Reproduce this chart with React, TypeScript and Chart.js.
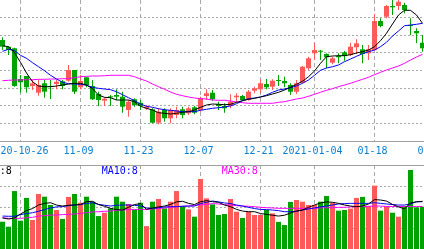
import { useEffect, useRef } from 'react';
import { Chart, registerables } from 'chart.js';

Chart.register(...registerables);

// ---------- data ----------
const dates = [
  '2020-10-21','2020-10-22','2020-10-23','2020-10-26','2020-10-27','2020-10-28','2020-10-29','2020-10-30',
  '2020-11-02','2020-11-03','2020-11-04','2020-11-05','2020-11-06','2020-11-09','2020-11-10','2020-11-11',
  '2020-11-12','2020-11-13','2020-11-16','2020-11-17','2020-11-18','2020-11-19','2020-11-20','2020-11-23',
  '2020-11-24','2020-11-25','2020-11-26','2020-11-27','2020-11-30','2020-12-01','2020-12-02','2020-12-03',
  '2020-12-04','2020-12-07','2020-12-08','2020-12-09','2020-12-10','2020-12-11','2020-12-14','2020-12-15',
  '2020-12-16','2020-12-17','2020-12-18','2020-12-21','2020-12-22','2020-12-23','2020-12-24','2020-12-25',
  '2020-12-28','2020-12-29','2020-12-30','2020-12-31','2021-01-04','2021-01-05','2021-01-06','2021-01-07',
  '2021-01-08','2021-01-11','2021-01-12','2021-01-13','2021-01-14','2021-01-15','2021-01-18','2021-01-19',
  '2021-01-20','2021-01-21','2021-01-22','2021-01-25','2021-01-26','2021-01-27','2021-01-28','2021-01-29',
  '2021-02-01',
];

const tickDates = ['2020-10-26','2020-11-09','2020-11-23','2020-12-07','2020-12-21','2021-01-04','2021-01-18','2021-02-01'];
const tickLabels = ['2020-10-26','11-09','11-23','12-07','12-21','2021-01-04','01-18','02-01'];

const open = [
  16.00,15.33,15.17,12.10,12.40,11.40,10.73,11.67,11.40,11.60,
  11.87,11.93,13.00,11.27,12.27,11.40,10.60,9.93,10.37,10.50,
  10.33,9.00,10.07,9.73,9.17,9.07,7.73,9.00,8.17,8.50,
  9.07,8.67,9.27,9.00,10.40,10.73,9.60,9.40,9.40,10.27,
  10.40,10.00,10.93,11.07,11.60,11.33,12.00,11.90,11.50,10.83,
  11.73,13.17,14.67,14.93,14.60,13.73,14.40,14.77,14.50,15.27,
  15.07,14.67,15.00,17.90,18.33,19.40,19.40,19.50,17.50,16.90,15.73,
];
const high = [
  16.27,15.40,15.23,12.50,12.40,12.00,12.07,12.00,12.00,12.00,
  12.00,13.50,13.00,12.50,12.33,12.00,10.83,10.27,10.50,11.07,
  10.83,10.00,10.17,10.00,9.50,9.17,9.17,9.17,9.17,9.33,
  9.33,9.33,9.40,10.33,11.07,11.00,9.83,9.67,10.57,10.67,
  10.50,11.00,11.33,12.07,12.10,12.07,12.50,12.33,11.67,12.00,
  13.40,14.33,15.73,15.00,14.67,14.33,14.67,14.90,15.73,16.07,
  15.50,15.50,18.60,18.17,19.50,20.20,20.20,19.73,18.17,17.17,16.50,
];
const low = [
  15.00,14.50,11.33,10.73,10.73,11.00,10.43,10.23,10.10,11.07,
  11.07,11.83,10.60,11.07,11.27,10.00,9.40,9.40,9.40,10.00,
  8.73,8.33,9.33,9.00,9.00,7.67,7.57,7.83,7.67,8.17,
  8.17,8.50,8.57,8.83,10.00,9.93,9.00,8.73,9.17,9.83,
  9.90,9.93,10.67,10.67,11.07,11.00,11.40,11.27,10.50,10.60,
  11.67,13.00,14.00,14.00,13.17,13.57,13.67,13.93,14.40,14.60,
  13.67,14.00,14.93,17.27,18.17,18.50,19.00,18.67,16.50,15.67,14.83,
];
const close = [
  15.33,15.00,11.40,11.77,11.27,11.67,11.50,10.83,11.30,11.83,
  11.40,13.00,10.83,11.90,11.50,10.07,10.00,10.13,10.27,10.33,
  9.33,9.83,9.50,9.40,9.33,7.73,8.83,8.17,9.00,9.00,
  8.50,9.17,8.73,10.17,10.67,10.07,9.40,9.17,9.83,10.43,
  10.00,10.83,11.17,11.67,11.27,11.93,11.90,11.67,10.83,11.67,
  13.33,14.17,15.00,14.83,14.27,14.17,14.27,14.40,15.33,15.67,
  14.60,15.07,17.90,17.40,19.40,19.27,19.83,19.00,17.40,16.67,15.17,
];

const ma5 = [
  15.43,15.33,14.73,13.77,12.70,11.83,11.40,11.33,11.33,11.40,
  11.50,11.60,11.67,11.67,11.50,11.13,10.50,10.27,10.23,10.00,
  10.00,10.00,9.83,9.37,9.17,9.00,8.73,8.67,8.60,8.67,
  8.77,8.83,9.00,9.27,9.50,9.60,9.57,9.53,9.57,9.77,
  9.93,10.07,10.17,10.30,10.43,10.60,10.77,11.00,11.27,11.57,
  11.87,12.33,12.90,13.67,14.33,14.40,14.43,14.43,14.53,14.70,
  14.83,15.00,15.33,15.93,16.67,17.60,18.50,18.97,18.97,18.50,17.67,
];
const ma10 = [
  14.87,15.07,14.93,14.47,14.17,13.73,13.33,12.93,12.47,12.10,
  11.77,11.63,11.60,11.57,11.47,11.27,11.17,11.10,11.03,10.83,
  10.53,10.23,9.93,9.60,9.37,9.27,9.13,9.03,8.97,8.90,
  8.83,8.83,8.83,8.97,9.07,9.17,9.23,9.30,9.40,9.63,
  9.93,10.13,10.20,10.30,10.50,10.77,11.00,11.10,11.23,11.40,
  11.67,12.00,12.47,12.97,13.20,13.33,13.50,13.83,14.10,14.37,
  14.63,14.83,15.00,15.33,15.77,16.40,16.90,17.43,17.50,17.57,17.67,
];
const ma30 = [
  11.93,11.97,12.00,12.00,12.03,12.03,12.07,12.07,12.10,12.10,
  12.13,12.13,12.23,12.33,12.37,12.40,12.40,12.43,12.47,12.47,
  12.47,12.47,12.33,12.10,11.90,11.60,11.33,11.07,10.80,10.57,
  10.43,10.30,10.20,10.13,10.10,10.00,9.97,9.97,9.90,9.80,
  9.73,9.67,9.67,9.67,9.67,9.67,9.77,9.83,9.97,10.10,
  10.20,10.37,10.57,10.77,10.97,11.13,11.33,11.50,11.67,11.87,
  12.07,12.27,12.53,12.77,13.00,13.20,13.40,13.67,14.00,14.30,14.57,
];

const volume = [
  131,107,278,136,245,139,264,251,211,187,
  144,250,264,222,251,227,158,174,195,251,
  227,216,190,222,110,227,240,195,227,278,
  206,190,155,336,243,214,163,168,240,179,
  149,179,163,163,187,171,130,115,226,235,
  227,211,211,227,254,222,184,187,194,245,
  250,206,304,184,206,174,155,206,379,200,203,
];
const vma5 = [
  149,144,149,168,184,194,211,219,222,211,
  206,210,211,213,227,229,213,205,195,189,
  187,200,213,218,190,197,202,206,214,226,
  229,219,213,227,232,227,224,211,203,190,
  182,179,179,170,166,162,158,162,173,182,
  187,200,211,221,226,224,219,211,206,203,
  206,216,237,235,230,214,202,192,222,226,229,
];
const vma10 = [
  158,157,157,165,170,174,181,189,197,202,
  203,208,211,214,218,222,214,210,206,210,
  211,211,210,206,197,194,198,202,203,203,
  205,206,206,218,224,230,226,221,218,211,
  206,200,194,190,189,187,184,179,179,181,
  187,192,197,202,206,211,216,218,219,219,
  219,219,222,219,216,213,211,211,216,227,227,
];
const vma30 = [
  150,147,147,147,150,152,158,160,163,163,
  165,166,168,171,174,178,179,181,182,186,
  187,189,190,190,190,192,194,197,200,203,
  205,206,210,211,214,218,216,213,211,208,
  206,205,203,200,198,197,195,195,195,195,
  195,195,195,197,198,198,200,200,202,203,
  203,205,206,206,204,204,204,204,204,204,204,
];

const legendTexts = ['MA5:8', 'MA10:8', 'MA30:8'];

// ---------- styles ----------
const RED = '#ff5a5a';
const GREEN = '#00a200';
const MA_COLORS = ['#000000', '#0000ff', '#ff00ff'];
const GRID = '#aaaaaa';
const AXIS = '#a0a0a0';
const LABEL = '#0a80d0';
const FONT = '"DejaVu Sans Mono", "Liberation Mono", monospace';

const CANVAS_W = 440;
const PRICE_H = 165;
const VOL_H = 84;
const STEP = 6;
const FIRST = 2.5;
const X_MIN = -FIRST / STEP;
const X_MAX = (CANVAS_W - FIRST) / STEP;

const tickIdx = tickDates.map((d) => dates.indexOf(d));
const upColors = open.map((o, i) => (close[i] >= o ? RED : GREEN));

const lineDs = (vals: number[], color: string) => ({
  type: 'line' as const,
  data: vals.map((y, i) => ({ x: i, y })),
  borderColor: color,
  borderWidth: 1,
  pointRadius: 0,
  tension: 0,
  fill: false,
});

const noPad = (s: any) => {
  s.paddingLeft = 0;
  s.paddingRight = 0;
  s.paddingTop = 0;
  s.paddingBottom = 0;
};

const xBase = () => ({
  type: 'linear' as const,
  min: X_MIN,
  max: X_MAX,
  offset: false,
  afterBuildTicks: (s: any) => {
    s.ticks = tickIdx.map((v) => ({ value: v }));
  },
  grid: { color: GRID, lineWidth: 1, drawTicks: false, offset: false, borderDash: [4, 3] },
});

export default function App() {
  const priceRef = useRef<HTMLCanvasElement | null>(null);
  const volRef = useRef<HTMLCanvasElement | null>(null);

  useEffect(() => {
    if (!priceRef.current || !volRef.current) return;

    const price = new Chart(priceRef.current, {
      type: 'bar',
      data: {
        datasets: [
          lineDs(ma5, MA_COLORS[0]),
          lineDs(ma10, MA_COLORS[1]),
          lineDs(ma30, MA_COLORS[2]),
          {
            type: 'bar',
            data: open.map((o, i) => ({ x: i, y: [Math.min(o, close[i]), Math.max(o, close[i])] })) as any,
            backgroundColor: upColors,
            barThickness: 5,
            grouped: false,
            minBarLength: 1,
            inflateAmount: 0,
          } as any,
          {
            type: 'bar',
            data: low.map((l, i) => ({ x: i, y: [l, high[i]] })) as any,
            backgroundColor: upColors,
            barThickness: 1,
            grouped: false,
            inflateAmount: 0,
          } as any,
        ],
      },
      options: {
        animation: false,
        responsive: false,
        events: [],
        layout: { padding: 0, autoPadding: false } as any,
        plugins: { legend: { display: false }, tooltip: { enabled: false } },
        scales: {
          x: {
            ...xBase(),
            afterFit: (s: any) => {
              s.height = PRICE_H - 141;
              noPad(s);
            },
            ticks: {
              autoSkip: false,
              maxRotation: 0,
              minRotation: 0,
              padding: 4,
              labelOffset: -2,
              color: LABEL,
              font: { family: FONT, size: 10 },
              callback: (v: any) => {
                const k = tickIdx.indexOf(Number(v));
                return k >= 0 ? tickLabels[k] : '';
              },
            },
            border: { display: true, color: AXIS, width: 1, dash: [4, 3] },
          } as any,
          y: {
            min: 5.9,
            max: 20,
            afterBuildTicks: (s: any) => {
              const n = 8;
              const t = [];
              for (let k = 0; k <= n; k++) t.push({ value: s.min + (k * (s.max - s.min)) / n });
              s.ticks = t;
            },
            afterFit: noPad,
            ticks: { display: false },
            grid: {
              drawTicks: false,
              lineWidth: 1,
              borderDash: [2, 2],
              color: (c: any) => (c.index === 0 || c.index === 8 ? 'rgba(0,0,0,0)' : GRID),
            },
            border: { display: false, dash: [2, 2] },
          } as any,
        },
      },
    });

    const legendPlugin = {
      id: 'volLegend',
      afterDraw(chart: any) {
        const ctx = chart.ctx;
        const area = chart.chartArea;
        ctx.save();
        ctx.font = `10px ${FONT}`;
        ctx.textBaseline = 'alphabetic';
        ctx.textAlign = 'left';
        const xs = [area.left - 18.3, area.left + 101.7, area.left + 221.7];
        legendTexts.forEach((t, k) => {
          ctx.fillStyle = MA_COLORS[k];
          ctx.fillText(t, xs[k], area.top + 9);
        });
        ctx.restore();
      },
    };

    const vol = new Chart(volRef.current, {
      type: 'bar',
      data: {
        datasets: [
          lineDs(vma5, MA_COLORS[0]),
          lineDs(vma10, MA_COLORS[1]),
          lineDs(vma30, MA_COLORS[2]),
          {
            type: 'bar',
            data: volume.map((v, i) => ({ x: i, y: v })) as any,
            backgroundColor: upColors,
            barThickness: 5,
            grouped: false,
            inflateAmount: 0,
          } as any,
        ],
      },
      options: {
        animation: false,
        responsive: false,
        events: [],
        layout: { padding: 0, autoPadding: false } as any,
        plugins: { legend: { display: false }, tooltip: { enabled: false } },
        scales: {
          x: {
            ...xBase(),
            position: 'bottom',
            afterFit: noPad,
            ticks: { display: false },
            border: { display: false, dash: [4, 3] },
          } as any,
          xTop: {
            type: 'linear',
            position: 'top',
            min: X_MIN,
            max: X_MAX,
            offset: false,
            afterFit: noPad,
            ticks: { display: false },
            grid: { display: false, drawTicks: false },
            border: { display: true, color: AXIS, width: 1 },
          } as any,
          y: {
            min: 0,
            max: 403,
            afterBuildTicks: (s: any) => {
              s.ticks = [100, 200, 300].map((v) => ({ value: v }));
            },
            afterFit: noPad,
            ticks: { display: false },
            grid: { drawTicks: false, lineWidth: 1, color: GRID, borderDash: [2, 2] },
            border: { display: false, dash: [2, 2] },
          } as any,
        },
      },
      plugins: [legendPlugin],
    });

    return () => {
      price.destroy();
      vol.destroy();
    };
  }, []);

  return (
    <div
      style={{
        position: 'absolute',
        left: 0,
        top: 0,
        width: 424,
        height: 249,
        overflow: 'hidden',
        background: '#ffffff',
      }}
    >
      <canvas
        ref={priceRef}
        width={CANVAS_W}
        height={PRICE_H}
        style={{ position: 'absolute', left: 0, top: 0, width: CANVAS_W, height: PRICE_H }}
      />
      <canvas
        ref={volRef}
        width={CANVAS_W}
        height={VOL_H}
        style={{ position: 'absolute', left: 0, top: PRICE_H, width: CANVAS_W, height: VOL_H }}
      />
    </div>
  );
}
